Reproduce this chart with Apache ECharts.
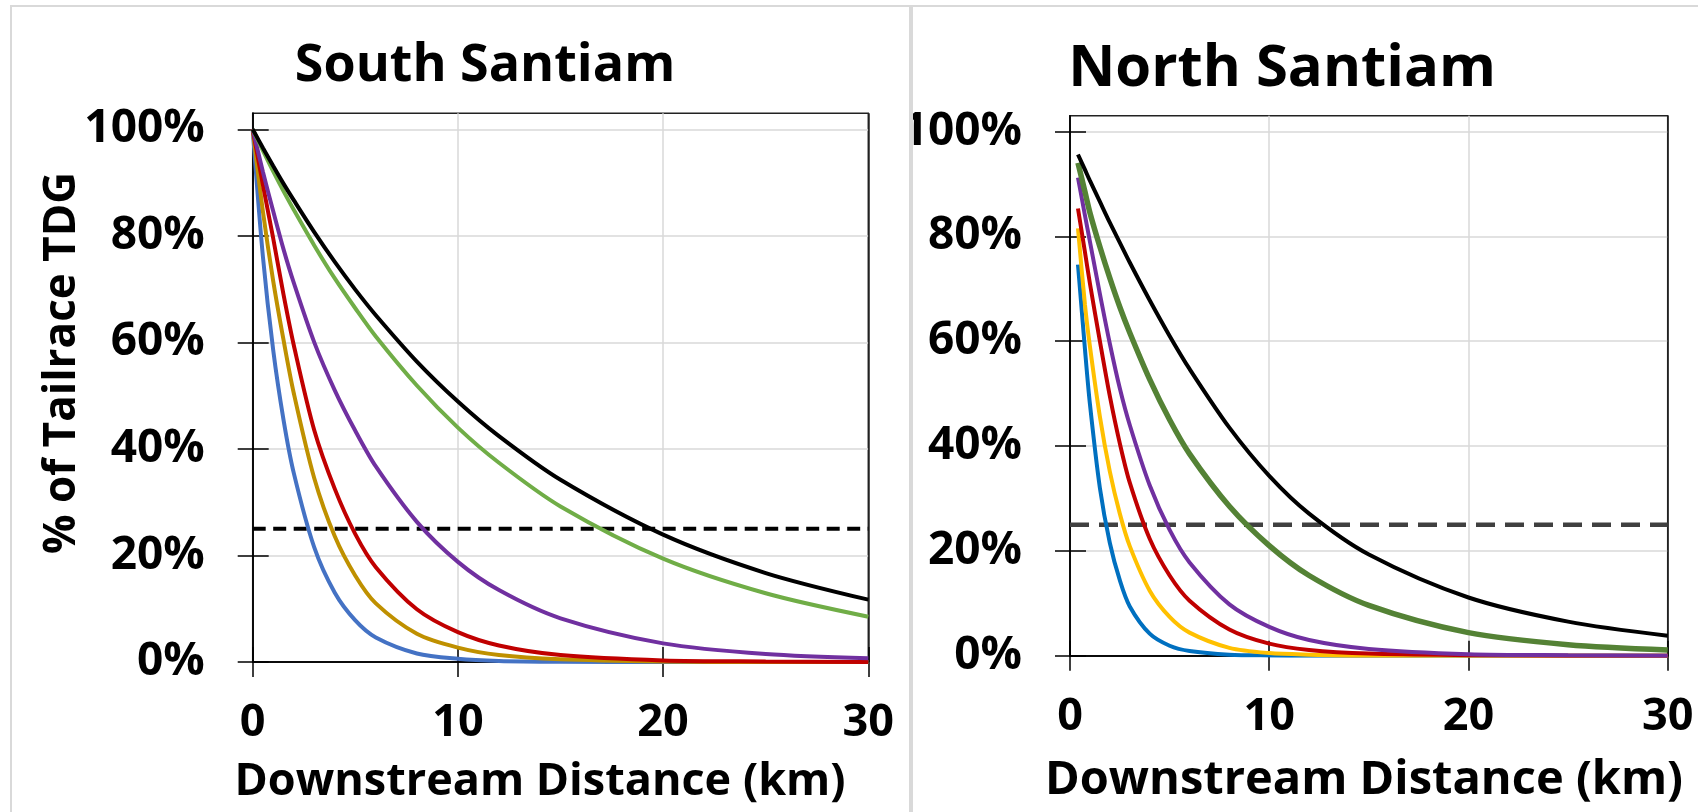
<!DOCTYPE html>
<html>
<head>
<meta charset="utf-8">
<script src="https://cdn.jsdelivr.net/npm/echarts@6/dist/echarts.min.js"></script>
<style>
html,body{margin:0;padding:0;background:#fff;}
#chart{width:1698px;height:812px;}
</style>
</head>
<body>
<div id="chart"></div>
<script>
// ---------- DATA ----------
const panelTitles = ['South Santiam', 'North Santiam'];
const xAxisTitle = 'Downstream Distance (km)';
const yAxisTitle = '% of Tailrace TDG';
const xTicks = [0, 10, 20, 30];
const yTicks = [0, 20, 40, 60, 80, 100];
const threshold = 25;

// South Santiam (km)
const ssX = [0, 0.5, 1, 1.5, 2, 3, 4, 5, 6, 8, 10, 12, 15, 20, 25, 30];
const ssBlue   = [100, 76, 58.5, 45.5, 35.5, 21.5, 13, 7.8, 4.6, 1.6, 0.6, 0.2, 0.05, 0, 0, 0];
const ssGold   = [100, 84.5, 71.5, 60.5, 50.5, 34.5, 23.6, 16.2, 11, 5.3, 2.7, 1.3, 0.5, 0.1, 0, 0];
const ssRed    = [100, 89.5, 79.5, 69, 59.5, 43.5, 32.5, 24, 17.8, 9.9, 5.6, 3.1, 1.3, 0.3, 0.1, 0];
const ssPurple = [100, 92, 84.6, 77.5, 71.2, 60, 51, 43.4, 36.7, 26.3, 18.8, 13.5, 8.2, 3.5, 1.5, 0.7];
const ssGreen  = [100, 96, 92.1, 88.4, 84.9, 78.2, 72, 66.4, 61.1, 51.9, 44, 37.4, 29.2, 19.4, 12.9, 8.5];
const ssBlack  = [100, 96.5, 93.1, 89.8, 86.7, 80.7, 75.1, 69.9, 65.1, 56.4, 48.9, 42.4, 34.2, 23.9, 16.7, 11.7];

// North Santiam (km)
const nsX = [0.4, 0.75, 1, 1.5, 2, 2.5, 3, 4, 5, 6, 8, 10, 12, 15, 20, 25, 30];
const nsBlue   = [74.6, 58.5, 48, 32, 21.5, 14.4, 9.4, 4.2, 1.9, 0.9, 0.2, 0.05, 0, 0, 0, 0, 0];
const nsGold   = [81.5, 67, 59, 45.6, 35.1, 27.1, 20.9, 12.4, 7.4, 4.4, 1.5, 0.5, 0.2, 0, 0, 0, 0];
const nsRed    = [85.3, 77, 71, 60, 49.5, 40.5, 33, 22.3, 15.3, 10.5, 5, 2.3, 1.1, 0.4, 0.1, 0, 0];
const nsPurple = [91.2, 84, 79, 69, 59.5, 51, 44, 32.5, 24, 17.8, 9.8, 5.5, 3, 1.3, 0.3, 0.1, 0];
const nsGreen  = [94, 88.5, 84.5, 78, 72, 66.5, 61.6, 52.7, 45, 38.5, 28.5, 21, 15.3, 9.6, 4.4, 2.1, 1.1];
const nsBlack  = [95.6, 92.7, 90.6, 86.6, 82.6, 78.8, 75.0, 67.8, 61.0, 54.7, 43.5, 34.3, 27.1, 19.3, 11.1, 6.5, 3.8];

// ---------- STYLE ----------
const FONT = '"Open Sans", "Noto Sans", sans-serif';
const ssColors = ['#4472C4', '#BF9000', '#C00000', '#7030A0', '#70AD47', '#000000'];
const nsColors = ['#0070C0', '#FFC000', '#C00000', '#7030A0', '#548235', '#000000'];
const ssWidths = [4, 4, 4, 4, 4, 4];
const nsWidths = [4, 4, 4, 4, 5.5, 4];

const pair = (xs, ys) => xs.map((x, i) => [x, ys[i]]);

const grids = [
  {left: 252.7, top: 113.3, width: 615.6, height: 548.7},
  {left: 1070, top: 115.7, width: 597.7, height: 540}
];

const gray = '#d9d9d9';
function xAxes(g) {
  return [
    {
      gridIndex: g, type: 'value', min: 0, max: 30, interval: 10, position: 'bottom',
      axisLine: {show: true, lineStyle: {color: '#000', width: 1.5}},
      axisTick: {show: true, inside: false, length: 15, customValues: xTicks, lineStyle: {color: '#000', width: 1.5}},
      axisLabel: {show: true, customValues: xTicks, margin: 61, verticalAlign: 'middle', fontFamily: FONT, fontWeight: 'bold', fontSize: 45, color: '#000'},
      splitLine: {show: true, lineStyle: {color: [gray, gray, gray, '#222'], width: 1.5}}
    },
    {
      gridIndex: g, type: 'value', min: 0, max: 30, interval: 10, position: 'bottom',
      axisLine: {show: true, lineStyle: {color: '#000', width: 1.5}},
      axisTick: {show: true, inside: true, length: 15, customValues: xTicks, lineStyle: {color: '#000', width: 1.5}},
      axisLabel: {show: false}, splitLine: {show: false}
    }
  ];
}
function yAxes(g) {
  return [
    {
      gridIndex: g, type: 'value', min: 0, max: 103, interval: 20, position: 'left',
      axisLine: {show: true, lineStyle: {color: '#000', width: 1.5}},
      axisTick: {show: true, inside: false, length: 15, customValues: yTicks, lineStyle: {color: '#000', width: 1.5}},
      axisLabel: {show: true, customValues: yTicks, margin: 48, formatter: v => v + '%', fontFamily: FONT, fontWeight: 'bold', fontSize: 46, color: '#000'},
      splitLine: {show: true, lineStyle: {color: [gray, gray, gray, gray, gray, gray, '#222'], width: 1.5}}
    },
    {
      gridIndex: g, type: 'value', min: 0, max: 103, interval: 20, position: 'left',
      axisLine: {show: true, lineStyle: {color: '#000', width: 1.5}},
      axisTick: {show: true, inside: true, length: 16, customValues: yTicks, lineStyle: {color: '#000', width: 1.5}},
      axisLabel: {show: false}, splitLine: {show: false}
    }
  ];
}

function lineSeries(g, xs, ys, color, width) {
  return {
    type: 'line', xAxisIndex: g * 2, yAxisIndex: g * 2,
    data: pair(xs, ys), showSymbol: false, symbol: 'none',
    smooth: 0.3,
    lineStyle: {color: color, width: width}, itemStyle: {color: color},
    animation: false, silent: true
  };
}

const ssData = [ssBlue, ssGold, ssRed, ssPurple, ssGreen, ssBlack];
const nsData = [nsBlue, nsGold, nsRed, nsPurple, nsGreen, nsBlack];

const series = [];
series.push({
  type: 'line', xAxisIndex: 0, yAxisIndex: 0, data: [[0, threshold], [30, threshold]],
  showSymbol: false, symbol: 'none', animation: false, silent: true,
  lineStyle: {color: '#000', width: 4, type: [13, 7.5]}
});
series.push({
  type: 'line', xAxisIndex: 2, yAxisIndex: 2, data: [[0, threshold], [30, threshold]],
  showSymbol: false, symbol: 'none', animation: false, silent: true,
  lineStyle: {color: '#404040', width: 4.5, type: [19, 10]}
});
ssData.forEach((d, i) => series.push(lineSeries(0, ssX, d, ssColors[i], ssWidths[i])));
nsData.forEach((d, i) => series.push(lineSeries(1, nsX, d, nsColors[i], nsWidths[i])));

const txt = (x, y, text, size, rot) => ({
  type: 'text', x: x, y: y, rotation: rot || 0, silent: true, z: 100,
  style: {text: text, fill: '#000', font: 'bold ' + size + 'px ' + FONT, textAlign: 'center', textVerticalAlign: 'middle'}
});

const option = {
  backgroundColor: '#fff',
  animation: false,
  grid: grids.map(g => Object.assign({show: true, borderColor: '#222', borderWidth: 1.5, backgroundColor: 'transparent', containLabel: false, outerBoundsMode: 'none'}, g)),
  xAxis: xAxes(0).concat(xAxes(1)),
  yAxis: yAxes(0).concat(yAxes(1)),
  series: series,
  graphic: [
    {type: 'rect', shape: {x: 895, y: 95, width: 16, height: 80}, style: {fill: '#fff'}, silent: true, z: 90},
    {type: 'rect', shape: {x: 11, y: 6, width: 899, height: 830}, style: {fill: 'none', stroke: gray, lineWidth: 2}, silent: true, z: 95},
    {type: 'rect', shape: {x: 912, y: 6, width: 800, height: 830}, style: {fill: 'none', stroke: gray, lineWidth: 2}, silent: true, z: 95},
    txt(485, 66, panelTitles[0], 52),
    txt(1282, 69, panelTitles[1], 58),
    txt(62, 363, yAxisTitle, 44, Math.PI / 2),
    txt(540, 782, xAxisTitle, 45),
    txt(1364, 781, xAxisTitle, 47)
  ]
};

const chart = echarts.init(document.getElementById('chart'), null, {renderer: 'canvas'});
chart.setOption(option);
</script>
</body>
</html>
